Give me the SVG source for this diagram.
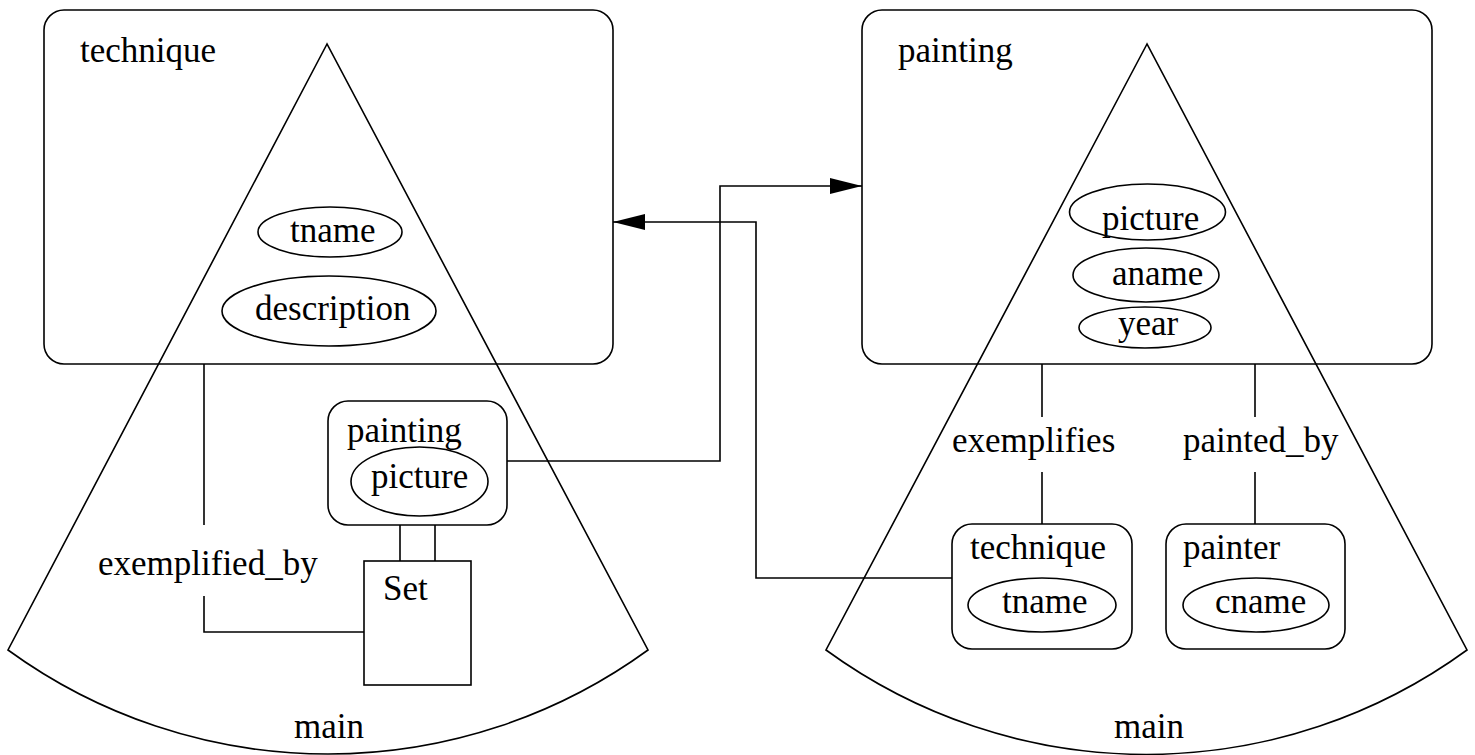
<svg xmlns="http://www.w3.org/2000/svg" width="1475" height="755" viewBox="0 0 1475 755">
<style>
.s{fill:none;stroke:#000;stroke-width:1.6}
.t{font-family:"Liberation Serif","Times New Roman",serif;font-size:35px;fill:#000}
</style>
<defs>
<marker id="ah" markerUnits="userSpaceOnUse" markerWidth="32" markerHeight="16" refX="32" refY="8" orient="auto">
<path d="M0,0 L32,8 L0,16 z" fill="#000"/>
</marker>
</defs>
<rect width="1475" height="755" fill="#fff"/>

<g id="left-module">
<rect class="s" x="44" y="10" width="569" height="354" rx="20"/>
<text class="t" x="80" y="62">technique</text>
<path class="s" d="M327,44 L8,650 A544,544 0 0 0 648,650 Z"/>
<text class="t" x="294" y="738">main</text>
</g>
<g id="left-tname">
<ellipse class="s" cx="330" cy="232" rx="72" ry="25"/>
<text class="t" x="290" y="242">tname</text>
</g>
<g id="left-description">
<ellipse class="s" cx="329" cy="311" rx="107" ry="35"/>
<text class="t" x="255" y="320">description</text>
</g>
<g id="left-painting">
<rect class="s" x="328" y="401" width="179" height="124" rx="20"/>
<text class="t" x="347" y="442">painting</text>
<ellipse class="s" cx="419.5" cy="481.5" rx="68.5" ry="34.5"/>
<text class="t" x="371" y="488">picture</text>
</g>
<g id="left-set">
<rect class="s" x="364" y="561" width="107" height="124"/>
<text class="t" x="383" y="600">Set</text>
</g>
<g id="left-exemplified_by">
<text class="t" x="98" y="575">exemplified_by</text>
</g>

<g id="right-module">
<rect class="s" x="862" y="10" width="570" height="354" rx="20"/>
<text class="t" x="898" y="62">painting</text>
<path class="s" d="M1147,44 L826,650 A544,544 0 0 0 1467,650 Z"/>
<text class="t" x="1114" y="738">main</text>
</g>
<g id="right-picture">
<ellipse class="s" cx="1147.5" cy="212" rx="78" ry="28"/>
<text class="t" x="1102" y="230">picture</text>
</g>
<g id="right-aname">
<ellipse class="s" cx="1146" cy="275" rx="73" ry="27"/>
<text class="t" x="1112" y="285">aname</text>
</g>
<g id="right-year">
<ellipse class="s" cx="1145" cy="327.5" rx="66" ry="20.5"/>
<text class="t" x="1118" y="335">year</text>
</g>
<g id="right-exemplifies">
<text class="t" x="952" y="452">exemplifies</text>
</g>
<g id="right-painted_by">
<text class="t" x="1183" y="452">painted_by</text>
</g>
<g id="right-technique">
<rect class="s" x="952" y="524" width="180" height="125" rx="20"/>
<text class="t" x="970" y="559">technique</text>
<ellipse class="s" cx="1042" cy="605" rx="74" ry="27"/>
<text class="t" x="1002" y="613">tname</text>
</g>
<g id="right-painter">
<rect class="s" x="1166" y="524" width="179" height="125" rx="20"/>
<text class="t" x="1183" y="559">painter</text>
<ellipse class="s" cx="1256" cy="605" rx="73" ry="27"/>
<text class="t" x="1215" y="613">cname</text>
</g>

<g id="connectors">
<path class="s" d="M204,364 V525"/>
<path class="s" d="M204,596 V632 H364"/>
<path class="s" d="M400,525 V561 M435,525 V561"/>
<path class="s" d="M507,461 H720 V186 H862" marker-end="url(#ah)"/>
<path class="s" d="M952,578 H756 V222 H613" marker-end="url(#ah)"/>
<path class="s" d="M1042,364 V417 M1042,472 V524"/>
<path class="s" d="M1255,364 V417 M1255,472 V524"/>
</g>
</svg>
